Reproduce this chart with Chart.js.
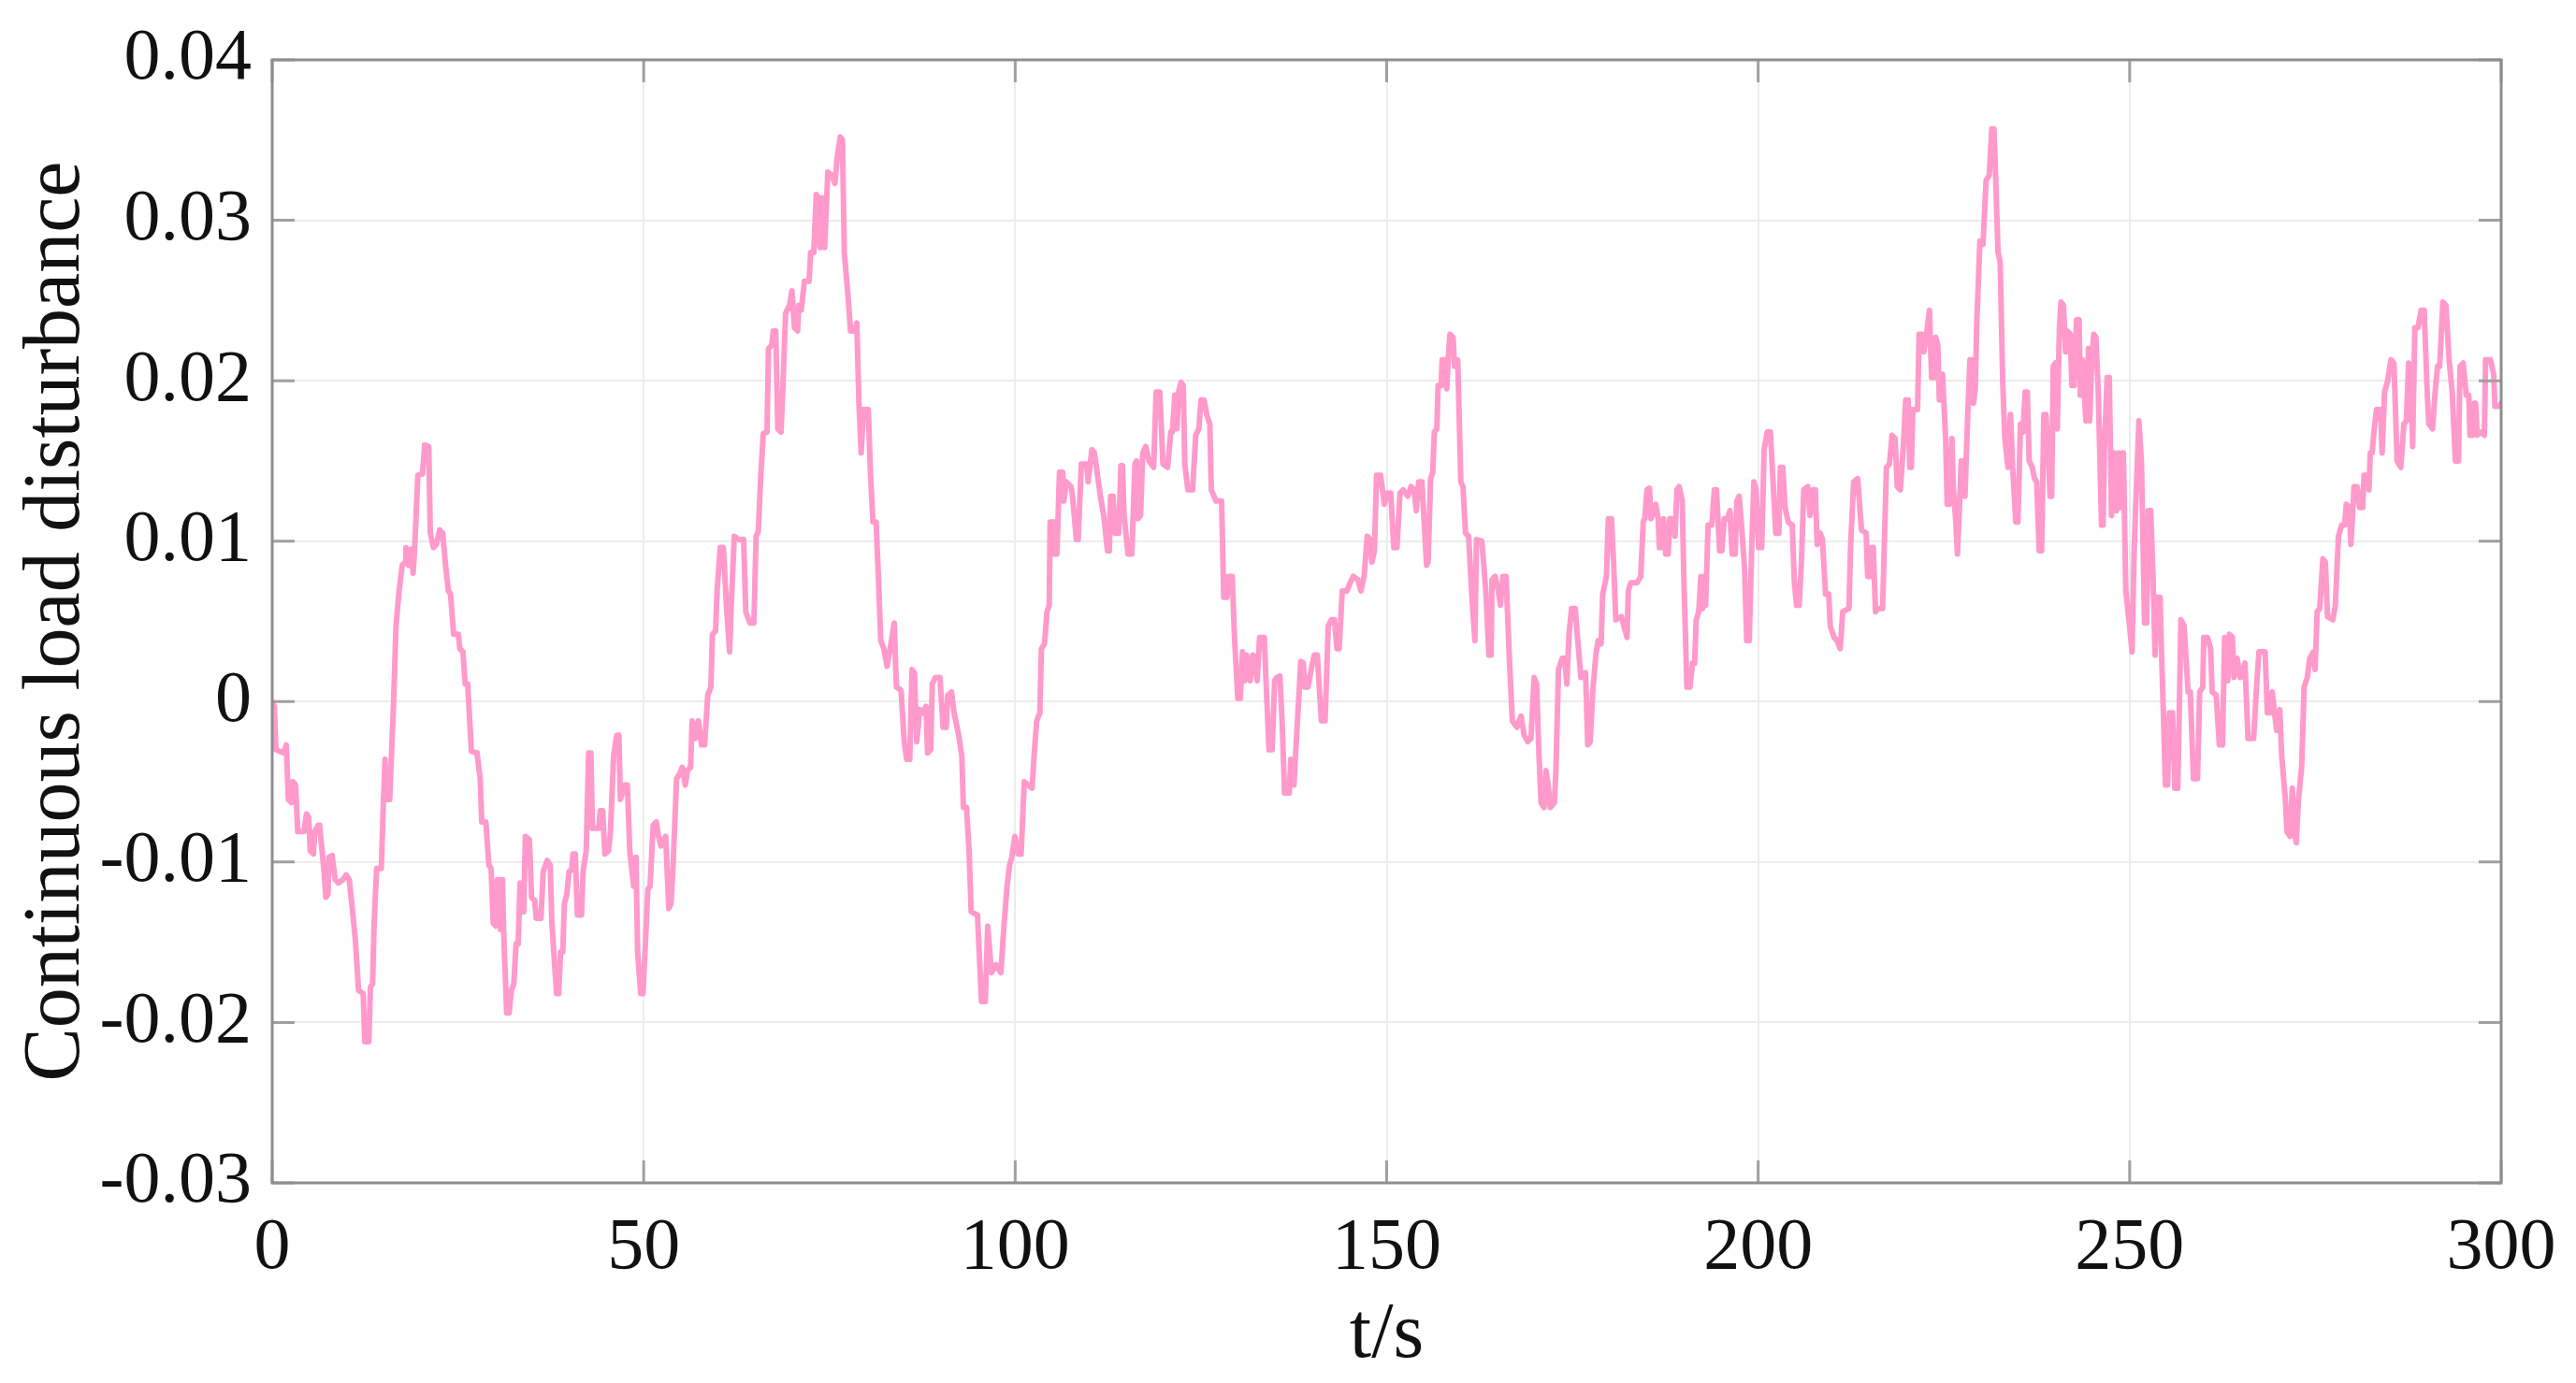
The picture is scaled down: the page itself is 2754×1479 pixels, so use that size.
<!DOCTYPE html>
<html>
<head>
<meta charset="utf-8">
<script src="https://cdn.jsdelivr.net/npm/chart.js@4.4.1/dist/chart.umd.min.js"></script>
<style>
html,body{margin:0;padding:0;background:#fff;}
#wrap{width:2754px;height:1479px;position:relative;}
</style>
</head>
<body>
<div id="wrap"><canvas id="c" width="2754" height="1479"></canvas></div>
<script>
// x tick values (t/s) and y tick values
const xTicks = [0, 50, 100, 150, 200, 250, 300];
const yTicks = [-0.03, -0.02, -0.01, 0, 0.01, 0.02, 0.03, 0.04];
const xTitle = 't/s';
const yTitle = 'Continuous load disturbance';

// [time (s), disturbance] samples
const seg0to50 = [[0,0],[0.29,-0.0003],[0.5,-0.003],[1.55,-0.0032],[1.89,-0.0027],[2.18,-0.0061],[2.6,-0.0063],[2.81,-0.005],[3.15,-0.0052],[3.44,-0.0081],[4.28,-0.0081],[4.62,-0.007],[4.91,-0.0072],[5.12,-0.0093],[5.54,-0.0095],[5.75,-0.0081],[6.17,-0.0077],[6.38,-0.0077],[6.8,-0.0097],[7.01,-0.0108],[7.22,-0.0122],[7.51,-0.012],[7.64,-0.0097],[8.06,-0.0096],[8.48,-0.0111],[8.9,-0.0113],[9.53,-0.0111],[9.95,-0.0108],[10.37,-0.0111],[10.78,-0.0129],[11.2,-0.0149],[11.62,-0.018],[12.25,-0.0182],[12.46,-0.0212],[13.01,-0.0212],[13.22,-0.0178],[13.51,-0.0176],[13.72,-0.0138],[14.06,-0.0104],[14.69,-0.0104],[14.98,-0.0061],[15.19,-0.0036],[15.4,-0.0061],[15.82,-0.0061],[16.03,-0.0036],[16.32,-0.0003],[16.66,0.0047],[17.08,0.0069],[17.5,0.0085],[17.92,0.0087],[18.0,0.0096],[18.34,0.0085],[18.67,0.0095],[18.97,0.008],[19.18,0.0096],[19.6,0.0141],[20.23,0.0142],[20.52,0.016],[21.07,0.0159],[21.28,0.0105],[21.7,0.0096],[22.12,0.0098],[22.53,0.0107],[22.95,0.0105],[23.29,0.0087],[23.71,0.0069],[24.0,0.0067],[24.42,0.0042],[25.05,0.0042],[25.26,0.0033],[25.68,0.0031],[25.98,0.0011],[26.31,0.0011],[26.81,-0.0031],[27.57,-0.0032],[27.99,-0.0048],[28.2,-0.0075],[28.75,-0.0075],[29.17,-0.0102],[29.46,-0.0104],[29.75,-0.0138],[30.09,-0.014],[30.3,-0.0111],[30.51,-0.0111],[30.72,-0.0142],[31.01,-0.0111],[31.14,-0.0142],[31.56,-0.0194],[31.89,-0.0194],[32.19,-0.018],[32.52,-0.0176],[32.82,-0.0151],[33.11,-0.0151],[33.36,-0.0113],[33.65,-0.0115],[33.86,-0.0131],[34.07,-0.0084],[34.62,-0.0086],[34.91,-0.0122],[35.33,-0.0124],[35.54,-0.0135],[36.17,-0.0135],[36.47,-0.0106],[37.01,-0.0099],[37.43,-0.0102],[37.64,-0.0138],[38.27,-0.0182],[38.56,-0.0182],[38.82,-0.0156],[39.11,-0.0156],[39.32,-0.0126],[39.66,-0.012],[39.95,-0.0106],[40.29,-0.0105],[40.49,-0.0095],[40.79,-0.0095],[41.08,-0.0133],[41.63,-0.0133],[41.84,-0.0106],[42.26,-0.0093],[42.59,-0.0032],[42.89,-0.0032],[43.1,-0.0079],[43.94,-0.0079],[44.15,-0.0068],[44.48,-0.0068],[44.78,-0.0095],[45.28,-0.0093],[45.53,-0.0081],[45.95,-0.0034],[46.37,-0.0021],[46.66,-0.0021],[46.87,-0.0061],[47.5,-0.0052],[47.8,-0.0052],[48.13,-0.0093],[48.64,-0.0115],[48.97,-0.0097],[49.18,-0.0156],[49.6,-0.0182],[49.9,-0.0182]];
const seg50to100 = [[50.23,-0.0151],[50.56,-0.0117],[50.86,-0.0115],[51.28,-0.0077],[51.7,-0.0075],[51.99,-0.0084],[52.33,-0.009],[52.96,-0.0084],[53.38,-0.0129],[53.67,-0.0126],[53.92,-0.0106],[54.43,-0.0048],[54.84,-0.0045],[55.18,-0.0041],[55.6,-0.0052],[55.9,-0.0043],[56.31,-0.0041],[56.52,-0.0012],[56.94,-0.0023],[57.36,-0.0012],[57.78,-0.0027],[58.2,-0.0027],[58.62,0.0004],[59.04,0.0009],[59.25,0.0042],[59.67,0.0044],[59.88,0.0069],[60.3,0.0096],[60.72,0.0096],[61.14,0.006],[61.56,0.0031],[61.77,0.0058],[62.19,0.0103],[62.82,0.0101],[63.45,0.0101],[63.74,0.0056],[64.29,0.0049],[64.83,0.0049],[65.13,0.0103],[65.42,0.0106],[65.76,0.0141],[66.09,0.0167],[66.6,0.0168],[66.8,0.022],[67.22,0.0222],[67.43,0.0231],[67.77,0.0231],[68.06,0.017],[68.48,0.0168],[68.69,0.0191],[69.1,0.0242],[69.62,0.0247],[69.95,0.0256],[70.29,0.0233],[70.71,0.0231],[70.88,0.0247],[71.21,0.0244],[71.63,0.0262],[72.26,0.0262],[72.47,0.028],[72.89,0.028],[73.23,0.0316],[73.52,0.0314],[73.73,0.0283],[74.06,0.0314],[74.36,0.0283],[74.78,0.033],[75.32,0.0328],[75.74,0.0323],[76.04,0.0339],[76.46,0.0352],[76.75,0.035],[77.0,0.028],[77.5,0.0253],[77.84,0.0231],[78.34,0.0231],[78.68,0.0236],[78.97,0.0186],[79.27,0.0155],[79.6,0.0182],[80.23,0.0182],[80.53,0.0141],[80.86,0.0112],[81.28,0.0112],[81.62,0.0074],[81.91,0.0038],[82.33,0.0033],[82.75,0.0022],[83.17,0.0033],[83.72,0.0049],[84.01,0.0009],[84.64,0.0007],[85.06,-0.0025],[85.4,-0.0036],[85.81,-0.0036],[86.11,0.002],[86.44,0.0018],[86.74,-0.0025],[87.16,-0.0005],[87.58,-0.0007],[88.0,-0.0003],[88.21,-0.0032],[88.63,-0.003],[88.84,0.0011],[89.26,0.0015],[89.88,0.0015],[90.3,-0.0016],[90.72,-0.0016],[90.93,0.0004],[91.44,0.0006],[91.77,-0.0007],[92.4,-0.0021],[92.82,-0.0034],[93.03,-0.0066],[93.45,-0.0066],[93.79,-0.0093],[94.08,-0.0131],[94.92,-0.0133],[95.47,-0.0187],[95.97,-0.0187],[96.3,-0.014],[96.81,-0.0169],[97.44,-0.0164],[98.07,-0.0169],[98.49,-0.014],[98.91,-0.0115],[99.24,-0.0102],[99.54,-0.0097],[99.96,-0.0084]];
const seg100to150 = [[100.38,-0.0095],[100.8,-0.0095],[101.22,-0.005],[102.27,-0.0054],[102.6,-0.003],[102.9,-0.0012],[103.32,-0.0007],[103.53,0.0033],[103.95,0.0036],[104.28,0.0056],[104.58,0.006],[104.7,0.0112],[105.12,0.0112],[105.2,0.0092],[105.62,0.0092],[105.96,0.0143],[106.38,0.0143],[106.55,0.0125],[106.88,0.0137],[107.51,0.0134],[107.72,0.0128],[108.23,0.0101],[108.48,0.0101],[108.9,0.0148],[109.61,0.0148],[109.82,0.0137],[110.32,0.0157],[110.66,0.0155],[111.08,0.0141],[111.5,0.0127],[111.92,0.0116],[112.42,0.0094],[112.67,0.0094],[112.84,0.0128],[113.18,0.0128],[113.43,0.0105],[113.93,0.0105],[114.23,0.0147],[114.44,0.0147],[114.65,0.0116],[115.19,0.0092],[115.7,0.0092],[116.12,0.0148],[116.33,0.015],[116.54,0.0114],[116.87,0.0116],[117.17,0.0155],[117.58,0.0159],[118.0,0.015],[118.63,0.0146],[118.97,0.0193],[119.47,0.0193],[119.89,0.0148],[120.52,0.0146],[120.94,0.0168],[121.15,0.0168],[121.49,0.0191],[121.78,0.017],[121.99,0.0193],[122.33,0.0199],[122.62,0.0197],[122.83,0.0148],[123.25,0.0132],[123.88,0.0132],[124.3,0.0166],[124.72,0.017],[125.01,0.0188],[125.43,0.0188],[125.77,0.0179],[126.19,0.0173],[126.4,0.0132],[127.03,0.0125],[127.78,0.0125],[128.07,0.0065],[128.5,0.0065],[128.7,0.0078],[129.21,0.0078],[129.54,0.0038],[129.96,0.0002],[130.3,0.0002],[130.59,0.0031],[130.89,0.0013],[131.14,0.0029],[131.64,0.0013],[131.98,0.0029],[132.27,0.0027],[132.57,0.0013],[132.9,0.004],[133.53,0.004],[133.74,0.0015],[134.16,-0.003],[134.58,-0.003],[134.92,0.0013],[135.21,0.0015],[135.63,0.0016],[135.92,-0.0012],[136.26,-0.0057],[136.89,-0.0057],[137.1,-0.0036],[137.52,-0.0052],[137.94,-0.0016],[138.44,0.0025],[138.78,0.0024],[138.99,0.0009],[139.41,0.0009],[139.83,0.002],[140.24,0.0029],[140.66,0.0029],[141.21,-0.0012],[141.71,-0.0012],[142.13,0.0047],[142.55,0.0051],[142.97,0.0051],[143.31,0.0033],[143.6,0.0033],[144.02,0.0069],[144.65,0.0069],[145.07,0.0074],[145.49,0.0078],[146.12,0.0076],[146.54,0.0069],[146.96,0.0078],[147.38,0.0103],[147.8,0.0101],[148.01,0.0087],[148.35,0.0094],[148.64,0.0141],[149.18,0.0141],[149.69,0.0123]];
const seg150to200 = [[150.12,0.013],[150.54,0.013],[150.96,0.0096],[151.38,0.0096],[151.8,0.013],[152.22,0.0132],[152.85,0.0128],[153.27,0.0134],[153.69,0.0132],[153.98,0.0119],[154.32,0.0137],[154.74,0.0137],[155.07,0.011],[155.37,0.0085],[155.57,0.0087],[155.91,0.0139],[156.2,0.0143],[156.41,0.0168],[156.75,0.017],[156.92,0.0197],[157.34,0.0197],[157.46,0.0213],[157.76,0.0213],[158.09,0.0195],[158.3,0.0215],[158.51,0.0229],[158.93,0.0227],[159.14,0.0209],[159.56,0.0213],[159.98,0.0137],[160.27,0.0134],[160.61,0.0105],[161.03,0.0103],[161.45,0.0067],[161.87,0.0038],[162.08,0.0101],[162.79,0.01],[163.04,0.0087],[163.34,0.0069],[163.76,0.0029],[164.05,0.0029],[164.18,0.0076],[164.6,0.0078],[165.02,0.0069],[165.31,0.006],[165.65,0.0078],[166.07,0.0078],[166.49,0.0029],[166.91,-0.0012],[167.53,-0.0016],[168.08,-0.0009],[168.5,-0.0021],[169.0,-0.0025],[169.42,-0.0023],[169.84,0.0015],[170.18,0.0011],[170.47,-0.003],[170.77,-0.0063],[171.19,-0.0066],[171.44,-0.0043],[171.73,-0.0052],[172.02,-0.0066],[172.57,-0.0063],[172.78,-0.0043],[173.12,0.002],[173.62,0.0027],[173.96,0.0027],[174.25,0.0011],[174.54,0.0042],[174.88,0.0058],[175.38,0.0058],[175.72,0.0038],[176.14,0.0015],[176.77,0.0018],[177.06,-0.0027],[177.4,-0.0025],[177.73,0.0006],[178.15,0.0029],[178.45,0.0038],[178.86,0.0036],[179.07,0.0067],[179.58,0.0078],[179.83,0.0114],[180.25,0.0114],[180.54,0.0087],[180.84,0.0051],[181.59,0.0053],[181.93,0.0047],[182.35,0.004],[182.52,0.0069],[182.85,0.0074],[183.69,0.0074],[184.19,0.0078],[184.53,0.0112],[184.74,0.0114],[185.03,0.0132],[185.37,0.0133],[185.58,0.0114],[186.21,0.0123],[186.54,0.0114],[186.71,0.0096],[187.05,0.0096],[187.26,0.0114],[187.55,0.0092],[187.89,0.0092],[188.1,0.0114],[188.52,0.0114],[188.81,0.0103],[189.06,0.0132],[189.36,0.0134],[189.78,0.0125],[189.99,0.0078],[190.41,0.0009],[190.82,0.0009],[191.16,0.0024],[191.45,0.0024],[191.66,0.0051],[192.0,0.0056],[192.29,0.0078],[192.5,0.0058],[192.71,0.0078],[192.92,0.006],[193.26,0.011],[193.76,0.011],[194.1,0.0132],[194.39,0.0132],[194.81,0.0094],[195.1,0.0094],[195.44,0.0114],[195.86,0.0114],[196.2,0.0119],[196.49,0.0092],[196.91,0.0092],[197.12,0.0125],[197.45,0.0128],[197.75,0.011],[198.17,0.0083],[198.46,0.0038],[198.8,0.0038],[199.13,0.0096],[199.43,0.0137],[199.72,0.0132]];
const seg200to250 = [[200.06,0.0096],[200.47,0.0096],[200.8,0.0157],[201.22,0.0168],[201.64,0.0168],[201.94,0.0143],[202.36,0.0105],[202.78,0.0105],[202.99,0.0146],[203.32,0.0146],[203.62,0.0121],[204.04,0.0112],[204.58,0.011],[204.88,0.0074],[205.17,0.006],[205.51,0.006],[205.84,0.0089],[206.13,0.0132],[206.68,0.0134],[206.97,0.0116],[207.39,0.0132],[207.69,0.0132],[207.94,0.0098],[208.36,0.0105],[208.65,0.0101],[209.07,0.0067],[209.49,0.0067],[209.7,0.0047],[210.21,0.004],[210.62,0.0038],[211.04,0.0033],[211.38,0.0056],[212.22,0.0058],[212.43,0.0096],[212.85,0.0137],[213.39,0.0139],[213.9,0.0107],[214.53,0.0105],[214.74,0.0078],[215.07,0.0078],[215.24,0.0096],[215.49,0.0096],[215.79,0.0056],[216.21,0.0058],[216.75,0.0058],[217.26,0.0146],[217.67,0.0148],[218.01,0.0166],[218.43,0.0164],[218.72,0.0134],[219.14,0.0132],[219.56,0.0161],[219.86,0.0188],[220.19,0.0188],[220.4,0.0146],[220.61,0.0146],[220.82,0.0182],[221.45,0.0182],[221.66,0.0229],[222.08,0.0229],[222.29,0.0218],[222.71,0.0231],[223.05,0.0244],[223.34,0.0202],[223.76,0.0202],[223.89,0.0227],[224.18,0.0222],[224.39,0.0188],[224.81,0.0204],[225.23,0.0164],[225.44,0.0123],[225.73,0.0123],[226.07,0.0164],[226.28,0.0132],[226.57,0.0114],[226.82,0.0092],[227.12,0.0125],[227.33,0.015],[227.66,0.015],[227.83,0.0128],[228.17,0.0175],[228.5,0.0213],[228.8,0.0213],[229.0,0.0186],[229.22,0.0195],[229.42,0.0236],[229.84,0.0287],[230.26,0.0285],[230.68,0.0325],[231.1,0.0328],[231.44,0.0357],[231.73,0.0357],[231.94,0.033],[232.28,0.028],[232.57,0.0274],[232.91,0.02],[233.2,0.0164],[233.62,0.0146],[233.96,0.0179],[234.25,0.0146],[234.67,0.0112],[234.96,0.0112],[235.3,0.0173],[235.64,0.0168],[235.93,0.0193],[236.22,0.0193],[236.47,0.015],[236.89,0.0146],[237.19,0.0139],[237.48,0.0137],[237.82,0.0094],[238.15,0.0094],[238.45,0.0179],[238.74,0.0179],[239.08,0.015],[239.29,0.0128],[239.5,0.0128],[239.71,0.0209],[240.0,0.0211],[240.25,0.017],[240.54,0.0233],[240.76,0.0249],[241.09,0.0247],[241.38,0.0218],[241.59,0.0231],[242.01,0.0229],[242.22,0.0197],[242.52,0.0197],[242.85,0.0238],[243.19,0.0238],[243.36,0.0191],[243.61,0.0213],[243.9,0.0191],[244.11,0.0175],[244.45,0.022],[244.62,0.0175],[244.87,0.0209],[245.16,0.0229],[245.46,0.0227],[245.79,0.0191],[246.21,0.011],[246.42,0.011],[246.63,0.0164],[246.97,0.0202],[247.26,0.0202],[247.55,0.0116],[247.89,0.0155],[248.22,0.0119],[248.52,0.0155],[248.73,0.0121],[249.15,0.0155],[249.48,0.0069],[249.99,0.0047]];
const seg250to300 = [[250.32,0.0031],[250.61,0.0096],[251.24,0.0175],[251.58,0.015],[252.0,0.0049],[252.29,0.0049],[252.5,0.0119],[252.83,0.0119],[253.13,0.008],[253.42,0.0029],[253.67,0.0065],[254.09,0.0065],[254.3,0.0029],[254.51,-0.0003],[254.81,-0.0052],[255.1,-0.0052],[255.35,-0.0007],[255.77,-0.0007],[256.07,-0.0054],[256.48,-0.0054],[256.9,0.0051],[257.32,0.0047],[257.87,0.0006],[258.16,0.0006],[258.58,-0.0048],[259.13,-0.0048],[259.42,0.0006],[259.84,0.0009],[259.97,0.004],[260.47,0.004],[260.89,0.0033],[261.1,0.0006],[261.65,0.0004],[262.07,-0.0027],[262.49,-0.0027],[262.78,0.004],[263.2,0.0013],[263.41,0.0042],[263.83,0.004],[264.04,0.0015],[264.46,0.0027],[264.88,0.0015],[265.51,0.0024],[265.93,-0.0023],[266.68,-0.0023],[267.1,0.0011],[267.4,0.0031],[268.23,0.0031],[268.53,-0.0007],[269.07,-0.0007],[269.2,0.0006],[269.49,-0.0007],[269.79,-0.0018],[270.21,-0.0005],[270.46,-0.0034],[270.96,-0.0061],[271.17,-0.0081],[271.59,-0.0084],[271.89,-0.0054],[272.14,-0.0081],[272.43,-0.0088],[272.72,-0.0061],[273.14,-0.0041],[273.48,0.0009],[273.9,0.0015],[274.24,0.0027],[274.74,0.0031],[274.95,0.002],[275.24,0.0056],[275.58,0.0058],[276.0,0.0089],[276.33,0.0087],[276.63,0.0053],[277.34,0.0051],[277.68,0.006],[278.1,0.0103],[278.52,0.011],[278.94,0.011],[279.15,0.0123],[279.56,0.0121],[279.77,0.0098],[279.98,0.0114],[280.19,0.0134],[280.61,0.0134],[280.95,0.0121],[281.37,0.0121],[281.54,0.0141],[281.87,0.0141],[282.21,0.0132],[282.38,0.0155],[282.63,0.0155],[282.92,0.017],[283.22,0.0182],[283.76,0.0182],[283.97,0.0155],[284.31,0.0193],[284.73,0.02],[285.15,0.0213],[285.57,0.0211],[285.99,0.015],[286.49,0.0146],[286.91,0.0173],[287.25,0.0175],[287.54,0.0211],[287.83,0.0209],[288.08,0.0159],[288.38,0.0233],[288.8,0.0233],[289.22,0.0244],[289.64,0.0244],[290.06,0.0191],[290.27,0.0173],[290.77,0.017],[291.11,0.0193],[291.44,0.0209],[291.73,0.0209],[292.15,0.0249],[292.57,0.0247],[292.99,0.0213],[293.41,0.0193],[293.83,0.015],[294.25,0.015],[294.46,0.0209],[294.88,0.0211],[295.3,0.0191],[295.64,0.0191],[295.8,0.0166],[296.14,0.0166],[296.35,0.0186],[296.56,0.0186],[296.77,0.0166],[297.32,0.0168],[297.74,0.0166],[297.9,0.0213],[298.57,0.0213],[298.99,0.0204],[299.16,0.0184],[299.71,0.0184],[300,0.0186]];

const samples = [].concat(seg0to50, seg50to100, seg100to150, seg150to200, seg200to250, seg250to300);
const points = samples.map(p => ({x: p[0], y: p[1]}));

const FONT = '"Liberation Serif", "Times New Roman", serif';
const AREA = {left: 291, top: 64, right: 2674, bottom: 1265};
const W = 2754, H = 1479;

function fmtY(v) {
  const r = Math.round(v * 100) / 100;
  return r === 0 ? '0' : r.toFixed(2);
}

const framePlugin = {
  id: 'frame',
  afterDraw(chart) {
    const ctx = chart.ctx, a = chart.chartArea;
    const xs = chart.scales.x, ys = chart.scales.y;
    ctx.save();
    ctx.strokeStyle = '#a0a0a0';
    ctx.lineWidth = 3;
    const L = 24;
    ctx.beginPath();
    yTicks.forEach(v => {
      const py = ys.getPixelForValue(v);
      ctx.moveTo(a.left, py); ctx.lineTo(a.left + L, py);
      ctx.moveTo(a.right, py); ctx.lineTo(a.right - L, py);
    });
    xTicks.forEach(v => {
      const px = xs.getPixelForValue(v);
      ctx.moveTo(px, a.bottom); ctx.lineTo(px, a.bottom - L);
      ctx.moveTo(px, a.top); ctx.lineTo(px, a.top + L);
    });
    ctx.stroke();
    ctx.strokeStyle = '#8e8e8e';
    ctx.lineWidth = 3;
    ctx.strokeRect(a.left, a.top, a.right - a.left, a.bottom - a.top);
    ctx.restore();
  }
};

new Chart(document.getElementById('c'), {
  type: 'line',
  data: {
    datasets: [{
      data: points,
      borderColor: '#ff9acb',
      borderWidth: 6,
      borderJoinStyle: 'round',
      borderCapStyle: 'round',
      pointRadius: 0,
      tension: 0,
      fill: false
    }]
  },
  options: {
    responsive: false,
    animation: false,
    layout: {padding: {left: 0, top: AREA.top, right: W - AREA.right, bottom: 0}},
    plugins: {legend: {display: false}, tooltip: {enabled: false}},
    scales: {
      x: {
        type: 'linear',
        min: 0, max: 300,
        afterBuildTicks(s) { s.ticks = xTicks.map(v => ({value: v})); },
        afterFit(s) { s.height = H - AREA.bottom; s.paddingLeft = 0; s.paddingRight = 0; },
        grid: {color: '#ececec', lineWidth: 2, drawTicks: false},
        border: {display: false},
        ticks: {
          color: '#111',
          font: {family: FONT, size: 78},
          padding: 24,
          maxRotation: 0,
          autoSkip: false
        },
        title: {
          display: true,
          text: xTitle,
          color: '#111',
          font: {family: FONT, size: 84},
          padding: {top: 12, bottom: 0}
        }
      },
      y: {
        type: 'linear',
        min: -0.03, max: 0.04,
        afterBuildTicks(s) { s.ticks = yTicks.map(v => ({value: v})); },
        afterFit(s) { s.width = AREA.left; s.paddingTop = 0; s.paddingBottom = 0; },
        grid: {color: '#ececec', lineWidth: 2, drawTicks: false},
        border: {display: false},
        ticks: {
          color: '#111',
          font: {family: FONT, size: 78},
          padding: 22,
          autoSkip: false,
          callback: v => fmtY(v)
        },
        title: {
          display: true,
          text: yTitle,
          color: '#111',
          font: {family: FONT, size: 86},
          padding: {top: 10, bottom: 0}
        }
      }
    }
  },
  plugins: [framePlugin]
});
</script>
</body>
</html>
